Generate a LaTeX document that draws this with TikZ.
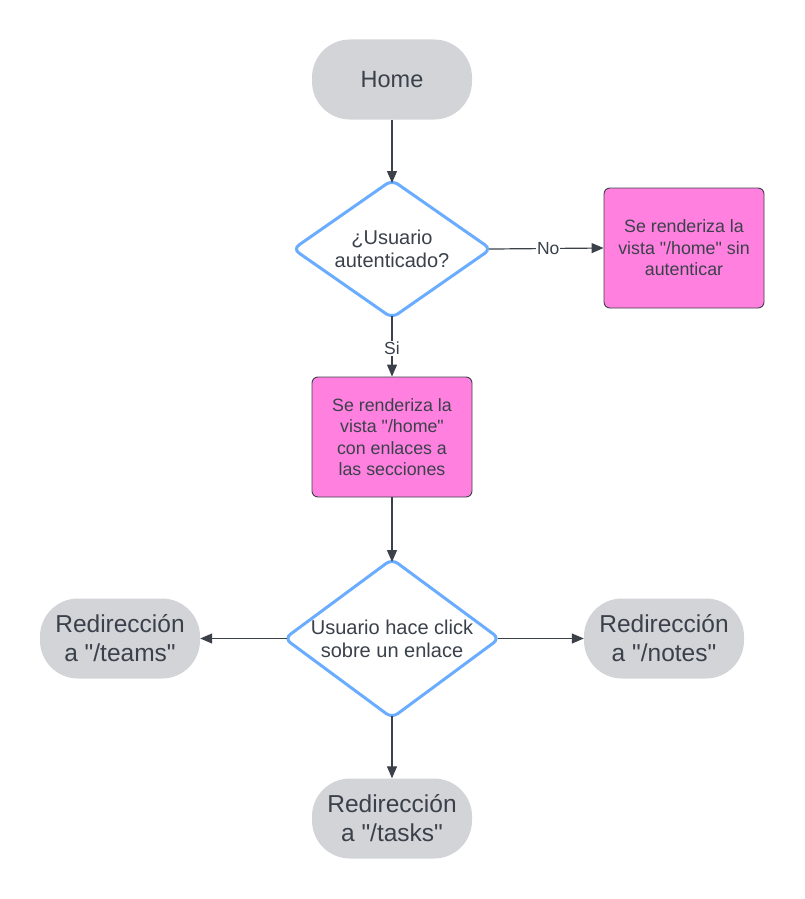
\documentclass[tikz,border=0pt]{standalone}
\usepackage{fontspec}
\setmainfont{Liberation Sans}[Ligatures=TeXOff]
\usetikzlibrary{shapes.geometric,arrows.meta}
\definecolor{txt}{RGB}{58,65,75}
\definecolor{grayfill}{RGB}{211,212,215}
\definecolor{pinkfill}{RGB}{255,128,223}
\definecolor{bluedge}{RGB}{106,173,255}
\definecolor{edge}{RGB}{60,64,72}
\tikzset{
  terminal/.style={rectangle, rounded corners=38pt, fill=grayfill, draw=none,
    minimum width=160pt, minimum height=80pt, align=center, text=txt,
    font=\fontsize{24.5}{29}\selectfont, inner sep=0pt},
  process/.style={rectangle, rounded corners=6pt, fill=pinkfill, draw=edge, line width=0.9pt,
    minimum width=160pt, minimum height=120pt, align=center, text=txt,
    font=\fontsize{17.8}{21.5}\selectfont, inner sep=0pt},
  decision/.style={diamond, rounded corners=7pt, fill=white, draw=bluedge, line width=3pt,
    inner sep=0pt},
  dtext/.style={align=center, text=txt, font=\fontsize{20}{23}\selectfont},
  conn/.style={draw=edge, line width=1.2pt, -{Triangle[length=12pt,width=10pt]}},
  fromdec/.style={shorten <=-4pt},
  todec/.style={shorten >=-5pt},
  lbl/.style={fill=white, text=txt, font=\fontsize{17.5}{20}\selectfont, inner sep=1pt},
}
\begin{document}
\begin{tikzpicture}[x=1pt,y=-1pt]
\useasboundingbox (0,0) rectangle (804,899);
\node[terminal, font=\fontsize{23.5}{29}\selectfont] (home) at (392,79.5) {Home};
\node[decision, minimum width=199pt, minimum height=139pt] (d1) at (392,249) {};
\node[dtext] (d1t) at (d1.center) {¿Usuario\\autenticado?};
\node[process] (p1) at (684,248) {Se renderiza la\\vista "/home" sin\\autenticar};
\node[process] (p2) at (392,437) {Se renderiza la\\vista "/home"\\con enlaces a\\las secciones};
\node[decision, minimum width=216pt, minimum height=160pt] (d2) at (392,638.5) {};
\node[dtext] (d2t) at (d2.center) {Usuario hace click\\sobre un enlace};
\node[terminal] (teams) at (120,638.5) {Redirección\\a "/teams"};
\node[terminal] (notes) at (664,638.5) {Redirección\\a "/notes"};
\node[terminal] (tasks) at (392,818.5) {Redirección\\a "/tasks"};
\draw[conn, todec] (home.south) -- (d1.north);
\draw[conn, fromdec] (d1.east) -- node[lbl] {No} (p1.west);
\draw[conn, fromdec] (d1.south) -- node[lbl] {Si} (p2.north);
\draw[conn, todec] (p2.south) -- (d2.north);
\draw[conn, fromdec] (d2.west) -- (teams.east);
\draw[conn, fromdec] (d2.east) -- (notes.west);
\draw[conn, fromdec] (d2.south) -- (tasks.north);
\end{tikzpicture}
\end{document}
